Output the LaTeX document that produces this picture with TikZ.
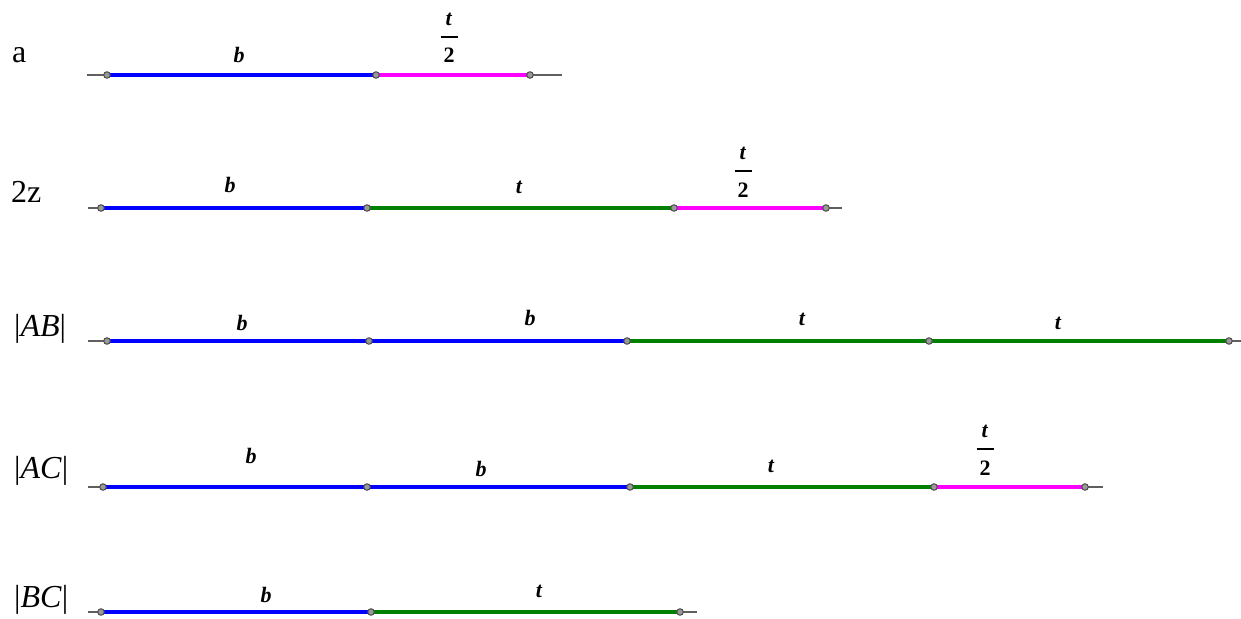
\documentclass[tikz,border=0pt]{standalone}
\usepackage{fontspec}
\setmainfont{Liberation Serif}
\definecolor{segblue}{RGB}{0,0,255}
\definecolor{seggreen}{RGB}{0,128,0}
\definecolor{segmag}{RGB}{255,0,255}
\definecolor{axisgray}{RGB}{95,95,95}
\newcommand{\halfT}{\vbox{\offinterlineskip\halign{\hfil##\hfil\cr
  \textbf{\textit{t}}\cr
  \noalign{\kern 11pt}
  \rule{17pt}{2pt}\cr
  \noalign{\kern 10pt}
  \textbf{2}\cr}}}
\tikzset{
  axisline/.style={axisgray, line width=1.6pt},
  segb/.style={segblue, line width=4.5pt},
  segg/.style={seggreen, line width=4.5pt},
  segm/.style={segmag, line width=4.5pt},
  pt/.style={circle, inner sep=0pt, minimum size=6.5pt, fill=gray!80, draw=black!70, line width=1pt},
  seglabel/.style={anchor=base, inner sep=0pt, font=\fontsize{22}{26}\selectfont\bfseries\itshape},
  fraclabel/.style={anchor=base, inner sep=0pt, font=\fontsize{22}{26}\selectfont},
  rowlabel/.style={anchor=base west, inner sep=0pt, font=\fontsize{32}{38}\selectfont},
}
\begin{document}
\begin{tikzpicture}[x=1pt, y=-1pt]
\useasboundingbox[fill=white] (0,0) rectangle (1241,618);

% ---------- row 1 : a ----------
\coordinate (r1s) at (87,75);
\coordinate (r1e) at (562,75);
\coordinate (r1p0) at (107,75);
\coordinate (r1p1) at (376,75);
\coordinate (r1p2) at (530,75);
\draw[axisline] (r1s) -- (r1e);
\draw[segb] (r1p0) -- (r1p1);
\draw[segm] (r1p1) -- (r1p2);
\foreach \p in {r1p0,r1p1,r1p2} \node[pt] at (\p) {};
\node[rowlabel] (la) at (12,63) {a};
\node[seglabel] (l1b) at (239,63) {b};
\node[fraclabel] (l1f) at (449,63) {\halfT};

% ---------- row 2 : 2z ----------
\coordinate (r2s) at (88,208);
\coordinate (r2e) at (842,208);
\coordinate (r2p0) at (101,208);
\coordinate (r2p1) at (367,208);
\coordinate (r2p2) at (674,208);
\coordinate (r2p3) at (826,208);
\draw[axisline] (r2s) -- (r2e);
\draw[segb] (r2p0) -- (r2p1);
\draw[segg] (r2p1) -- (r2p2);
\draw[segm] (r2p2) -- (r2p3);
\foreach \p in {r2p0,r2p1,r2p2,r2p3} \node[pt] at (\p) {};
\node[rowlabel] (l2z) at (11,202) {2z};
\node[seglabel] (l2b) at (230,192) {b};
\node[seglabel] (l2t) at (519,193) {t};
\node[fraclabel] (l2f) at (743,197) {\halfT};

% ---------- row 3 : |AB| ----------
\coordinate (r3s) at (88,341);
\coordinate (r3e) at (1241,341);
\coordinate (r3p0) at (107,341);
\coordinate (r3p1) at (369,341);
\coordinate (r3p2) at (627,341);
\coordinate (r3p3) at (929,341);
\coordinate (r3p4) at (1229,341);
\draw[axisline] (r3s) -- (r3e);
\draw[segb] (r3p0) -- (r3p2);
\draw[segg] (r3p2) -- (r3p4);
\foreach \p in {r3p0,r3p1,r3p2,r3p3,r3p4} \node[pt] at (\p) {};
\node[rowlabel] (lab) at (14,336) {|\textit{AB}|};
\node[seglabel] (l3b1) at (242,330) {b};
\node[seglabel] (l3b2) at (530,325) {b};
\node[seglabel] (l3t1) at (802,325) {t};
\node[seglabel] (l3t2) at (1058,329) {t};

% ---------- row 4 : |AC| ----------
\coordinate (r4s) at (88,487);
\coordinate (r4e) at (1103,487);
\coordinate (r4p0) at (103,487);
\coordinate (r4p1) at (367,487);
\coordinate (r4p2) at (630,487);
\coordinate (r4p3) at (934,487);
\coordinate (r4p4) at (1085,487);
\draw[axisline] (r4s) -- (r4e);
\draw[segb] (r4p0) -- (r4p2);
\draw[segg] (r4p2) -- (r4p3);
\draw[segm] (r4p3) -- (r4p4);
\foreach \p in {r4p0,r4p1,r4p2,r4p3,r4p4} \node[pt] at (\p) {};
\node[rowlabel] (lac) at (14,478) {|\textit{AC}|};
\node[seglabel] (l4b1) at (251,463) {b};
\node[seglabel] (l4b2) at (481,476) {b};
\node[seglabel] (l4t) at (771,472) {t};
\node[fraclabel] (l4f) at (985,475) {\halfT};

% ---------- row 5 : |BC| ----------
\coordinate (r5s) at (88,612);
\coordinate (r5e) at (697,612);
\coordinate (r5p0) at (101,612);
\coordinate (r5p1) at (371,612);
\coordinate (r5p2) at (680,612);
\draw[axisline] (r5s) -- (r5e);
\draw[segb] (r5p0) -- (r5p1);
\draw[segg] (r5p1) -- (r5p2);
\foreach \p in {r5p0,r5p1,r5p2} \node[pt] at (\p) {};
\node[rowlabel] (lbc) at (14,607) {|\textit{BC}|};
\node[seglabel] (l5b) at (266,602) {b};
\node[seglabel] (l5t) at (539,597) {t};
\end{tikzpicture}
\end{document}
